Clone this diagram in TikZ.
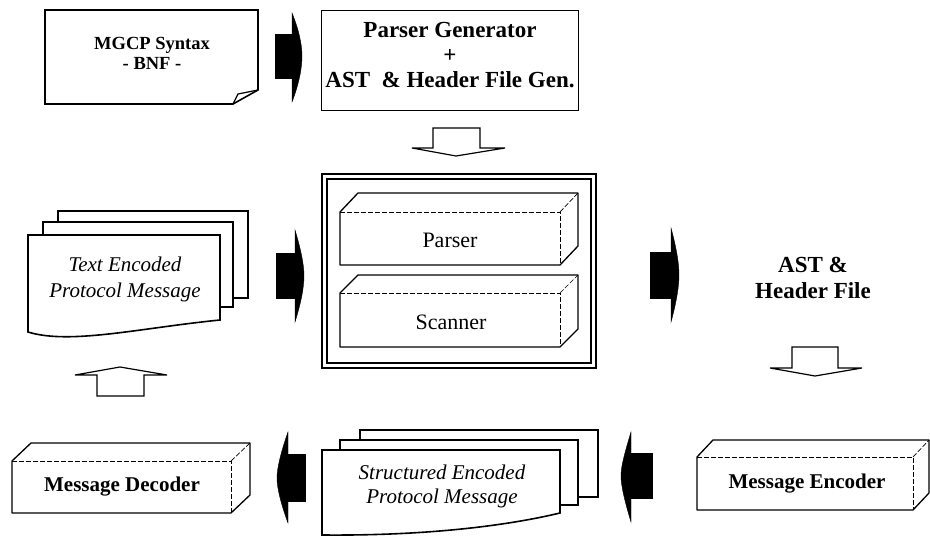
\documentclass[tikz,border=0pt]{standalone}
\usepackage{fontspec}
\setmainfont{Liberation Serif}
\newcommand\mycuboid[6]{%
  \draw[cubeout] (#1,#2) -- ({#1+#5},{#2-#6}) -- ({#3+#5},{#2-#6}) -- ({#3+#5},{#4-#6}) -- (#3,#4) -- (#1,#4) -- cycle;
  \draw[cubein] (#1,#2) -- (#3,#2) -- (#3,#4);
  \draw[cubein] (#3,#2) -- ({#3+#5},{#2-#6});
}
\tikzset{
  sheet/.style={draw, line width=1.6pt, fill=white, line join=miter},
  cubeout/.style={draw, line width=1.3pt, fill=white, line join=round},
  cubein/.style={draw, line width=0.7pt, dash pattern=on 5pt off 2pt},
  blk/.style={fill=black, draw=black, line width=0.4pt},
  hollow/.style={draw, line width=1.2pt, fill=white, line join=miter},
  boldlbl/.style={font=\bfseries\fontsize{21}{25}\selectfont, align=center, inner sep=0pt},
  itlbl/.style={font=\itshape\fontsize{21}{26}\selectfont, align=center, inner sep=0pt},
  reglbl/.style={font=\fontsize{22}{24}\selectfont, align=center, inner sep=0pt},
}
\begin{document}
\begin{tikzpicture}[x=1pt,y=-1pt]
\useasboundingbox[fill=white] (0,0) rectangle (930,537);

% MGCP Syntax box with folded corner
\draw[sheet] (45,10) -- (258,10) -- (258,90) -- (233,104) -- (45,104) -- cycle;
\draw[line width=1.2pt] (233,104) -- (238,94) -- (258,90);
\node[boldlbl, font=\bfseries\fontsize{18.5}{20}\selectfont] (mgcp) at (152,53) {MGCP Syntax\\- BNF -};

% arrow MGCP -> Parser Generator
\fill[blk] (275,34) rectangle (293,78);
\fill[blk] (292,13) .. controls (299,30) and (302,45) .. (302,56) .. controls (302,68) and (299,84) .. (292,102) -- cycle;

% Parser Generator box
\node[draw, line width=0.9pt, minimum width=257pt, minimum height=100pt, inner sep=0pt] (pgbox) at (450,60) {};
\node[boldlbl, font=\bfseries\fontsize{23}{25}\selectfont] (pg) at (450,55) {Parser Generator\\+\\AST~~\& Header File Gen.};

% hollow arrow down under Parser Generator
\draw[hollow] (433,128) -- (480,128) -- (480,148) -- (505,148) -- (456,156) -- (412,148) -- (433,148) -- cycle;

% central double box
\draw[line width=1.2pt] (322,174) rectangle (596,368);
\draw[line width=1.2pt] (327,179) rectangle (591,363);
\mycuboid{340}{212}{560}{265}{18}{19}
\node[reglbl] (parser) at (450,240) {Parser};
\mycuboid{340}{293}{560}{347}{18}{18}
\node[reglbl] (scanner) at (451,322) {Scanner};

% Text Encoded stack
\draw[sheet] (58,211) rectangle (248,298);
\draw[sheet] (43,222) rectangle (233,307);
\draw[sheet] (28,235) -- (220,235) -- (220,320) .. controls (140,328) and (70,345) .. (28,332) -- cycle;
\node[itlbl] (txt) at (125,279) {Text Encoded\\Protocol Message};

% arrow Text -> centre
\fill[blk] (276,253) rectangle (296,298);
\fill[blk] (295,230) .. controls (301,250) and (304,265) .. (304,276) .. controls (304,287) and (301,303) .. (295,322) -- cycle;

% arrow centre -> AST
\fill[blk] (650,252) rectangle (672,298);
\fill[blk] (671,228) .. controls (677,250) and (679,265) .. (679,275) .. controls (679,285) and (677,300) .. (671,322) -- cycle;

% AST & Header File
\node[boldlbl, font=\bfseries\fontsize{23}{26}\selectfont] (ast) at (813,278) {AST \&\\Header File};

% hollow arrow down right
\draw[hollow] (792,347) -- (838,347) -- (838,368) -- (862,368) -- (815,376) -- (770,368) -- (792,368) -- cycle;

% hollow arrow up left
\draw[hollow] (97,396) -- (144,396) -- (144,375) -- (167,375) -- (120,367) -- (75,375) -- (97,375) -- cycle;

% Message Decoder
\mycuboid{12}{461}{231}{513}{19}{18}
\node[boldlbl] (dec) at (122,487) {Message Decoder};

% arrow Structured -> Decoder
\fill[blk] (286,454) rectangle (305,501);
\fill[blk] (288,432) .. controls (281,452) and (277,468) .. (277,478) .. controls (277,488) and (281,504) .. (288,523) -- cycle;

% Structured stack
\draw[sheet] (360,430) rectangle (598,497);
\draw[sheet] (340,440) rectangle (578,505);
\draw[sheet] (322,450) -- (560,450) -- (560,513) .. controls (510,525) and (430,536) .. (322,535) -- cycle;
\node[itlbl, font=\itshape\fontsize{21}{24}\selectfont] (struct) at (442,486) {Structured Encoded\\Protocol Message};

% arrow Encoder -> Structured
\fill[blk] (625,453) rectangle (652,498);
\fill[blk] (631,432) .. controls (625,452) and (621,466) .. (621,476) .. controls (621,486) and (625,502) .. (631,522) -- cycle;

% Message Encoder
\mycuboid{697}{457}{913}{510}{16}{17}
\node[boldlbl] (enc) at (807,484) {Message Encoder};
\end{tikzpicture}
\end{document}
